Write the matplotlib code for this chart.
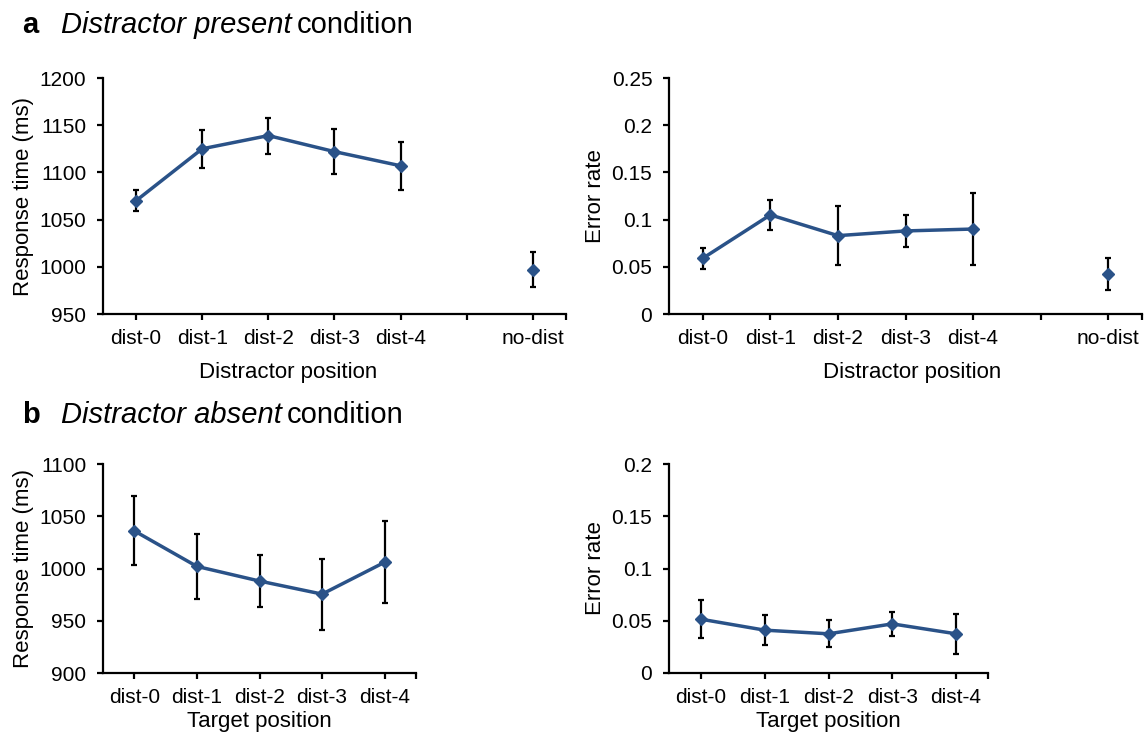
import matplotlib
matplotlib.use("Agg")
import matplotlib.pyplot as plt
from matplotlib.ticker import FixedLocator, FuncFormatter

plt.rcParams['font.family'] = ['Liberation Sans', 'DejaVu Sans']

# categories
cats_a = ['dist-0', 'dist-1', 'dist-2', 'dist-3', 'dist-4', '', 'no-dist']
cats_b = ['dist-0', 'dist-1', 'dist-2', 'dist-3', 'dist-4']

# a - distractor present: response time (ms)
rt_a = [1070, 1125, 1139, 1122, 1107]
rt_a_err = [11, 20, 19, 24, 25.5]
rt_a_nodist = 997
rt_a_nodist_err = 18.5

# a - distractor present: error rate
er_a = [0.059, 0.105, 0.083, 0.088, 0.090]
er_a_err = [0.011, 0.016, 0.031, 0.017, 0.038]
er_a_nodist = 0.0425
er_a_nodist_err = 0.017

# b - distractor absent: response time (ms)
rt_b = [1036, 1002, 988, 975.5, 1006]
rt_b_err = [33, 31, 24.5, 34, 39]

# b - distractor absent: error rate
er_b = [0.0515, 0.041, 0.0375, 0.047, 0.0375]
er_b_err = [0.018, 0.0145, 0.013, 0.0115, 0.019]

W, H = 1146, 739
blue = '#2a5288'
fs = 15
lfs = 16


def px_axes(fig, left, right, top, bottom):
    return fig.add_axes([left / W, 1 - bottom / H, (right - left) / W, (bottom - top) / H])


def style_axes(ax, cats, ylim, yticks, ylabel, xlabel, xlabelpad):
    n = len(cats)
    ax.set_xlim(-0.5, n - 0.5)
    ax.set_ylim(*ylim)
    ax.set_yticks(yticks)
    ax.yaxis.set_major_formatter(FuncFormatter(lambda v, p: '{:g}'.format(round(v, 4))))
    ax.set_xticks(range(n))
    ax.set_xticklabels(cats)
    ax.xaxis.set_minor_locator(FixedLocator([n - 0.5]))
    for s in ['top', 'right']:
        ax.spines[s].set_visible(False)
    for s in ['left', 'bottom']:
        ax.spines[s].set_linewidth(1.6)
    ax.tick_params(axis='both', which='both', direction='out', length=4, width=1.6, labelsize=fs)
    ax.tick_params(axis='x', which='major', pad=7)
    ax.tick_params(axis='y', pad=8)
    ax.set_ylabel(ylabel, fontsize=lfs, labelpad=4)
    ax.set_xlabel(xlabel, fontsize=lfs, labelpad=xlabelpad)


def draw_series(ax, vals, errs):
    x = list(range(len(vals)))
    ax.errorbar(x, vals, yerr=errs, fmt='none', ecolor='black', elinewidth=1.6,
                capsize=2.5, capthick=1.6, zorder=2)
    ax.plot(x, vals, color=blue, lw=2.5, marker='D', markersize=6.5, zorder=3)


def draw_single(ax, xpos, val, err):
    ax.errorbar([xpos], [val], yerr=[err], fmt='none', ecolor='black', elinewidth=1.6,
                capsize=2.5, capthick=1.6, zorder=2)
    ax.plot([xpos], [val], color=blue, lw=0, marker='D', markersize=6.5, zorder=3)


fig = plt.figure(figsize=(W / 100, H / 100), dpi=100)

# panel a, response time
ax1 = px_axes(fig, 103, 566, 78, 314)
draw_series(ax1, rt_a, rt_a_err)
draw_single(ax1, 6, rt_a_nodist, rt_a_nodist_err)
style_axes(ax1, cats_a, (950, 1200), range(950, 1201, 50), 'Response time (ms)',
           'Distractor position', 10)
# the x label of this panel sits left of the axis centre
ax1.xaxis.label.set_x((288 - 103) / (566 - 103))

# panel a, error rate
ax2 = px_axes(fig, 669, 1142, 78, 314)
draw_series(ax2, er_a, er_a_err)
draw_single(ax2, 6, er_a_nodist, er_a_nodist_err)
style_axes(ax2, cats_a, (0, 0.25), [0, 0.05, 0.1, 0.15, 0.2, 0.25], 'Error rate',
           'Distractor position', 10)
ax2.xaxis.label.set_x((912 - 669) / (1142 - 669))

# panel b, response time
ax3 = px_axes(fig, 103, 416, 464, 673)
draw_series(ax3, rt_b, rt_b_err)
style_axes(ax3, cats_b, (900, 1100), range(900, 1101, 50), 'Response time (ms)',
           'Target position', 3)

# panel b, error rate
ax4 = px_axes(fig, 669, 988, 464, 673)
draw_series(ax4, er_b, er_b_err)
style_axes(ax4, cats_b, (0, 0.2), [0, 0.05, 0.1, 0.15, 0.2], 'Error rate',
           'Target position', 3)

# panel titles: bold letter, italic condition name, plain "condition"
renderer = fig.canvas.get_renderer()
for letter, name, ypx in [('a', 'Distractor present', 33), ('b', 'Distractor absent', 423)]:
    y = 1 - ypx / H
    fig.text(22 / W, y, letter, fontsize=21, fontweight='bold', va='baseline')
    t = fig.text(61 / W, y, name, fontsize=21, style='italic', va='baseline')
    bb = t.get_window_extent(renderer)
    fig.text((bb.x1 + 5) / W, y, 'condition', fontsize=21, va='baseline')

fig.savefig('out.png', dpi=100)
